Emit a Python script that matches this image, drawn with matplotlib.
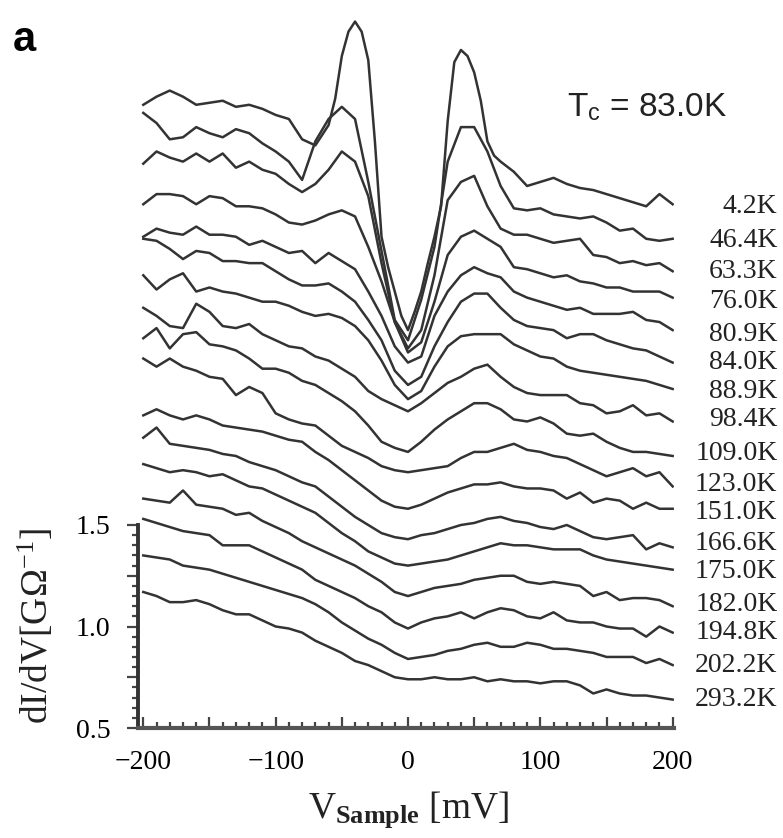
import matplotlib
matplotlib.use("Agg")
import matplotlib.pyplot as plt
import matplotlib.transforms as mtransforms
from matplotlib.ticker import FixedLocator, FuncFormatter, MultipleLocator
import numpy as np

plt.rcParams['font.family'] = ['Liberation Serif', 'DejaVu Serif']
plt.rcParams['mathtext.fontset'] = 'custom'
plt.rcParams['mathtext.rm'] = 'Liberation Serif'
plt.rcParams['mathtext.sf'] = 'Liberation Sans'
plt.rcParams['mathtext.bf'] = 'Liberation Serif:bold'
plt.rcParams['mathtext.it'] = 'Liberation Serif:italic'

# sample bias grid (mV), one value every 10 mV
bias_mv = np.arange(-200, 201, 10)
# the 4.2K curve is read more finely around the coherence peaks
bias_4_2 = np.concatenate([np.arange(-200, -79, 10), np.arange(-70, 71, 5), np.arange(80, 201, 10)])

temperatures = ["4.2K", "46.4K", "63.3K", "76.0K", "80.9K", "84.0K", "88.9K",
                "98.4K", "109.0K", "123.0K", "151.0K", "166.6K", "175.0K",
                "182.0K", "194.8K", "202.2K", "293.2K"]
# height of each temperature label (same units as the curves)
label_y = [3.07, 2.90, 2.75, 2.60, 2.44, 2.30, 2.16, 2.02, 1.85, 1.70, 1.56, 1.41, 1.27,
           1.11, 0.97, 0.81, 0.64]

# dI/dV curves, offset for clarity
g_4_2 = [3.57, 3.61, 3.64, 3.61, 3.57, 3.58, 3.59, 3.56, 3.57, 3.55, 3.52, 3.50, 3.40,
         3.37, 3.42, 3.47, 3.60, 3.81, 3.93, 3.98, 3.93, 3.79, 3.39, 2.92, 2.77, 2.65, 2.53,
         2.46, 2.55, 2.65, 2.79, 2.92, 3.07, 3.49, 3.78, 3.84, 3.81, 3.73, 3.59, 3.39, 3.32,
         3.29,
         3.24, 3.17, 3.19, 3.21, 3.18, 3.16, 3.15, 3.13, 3.11, 3.09, 3.07, 3.13, 3.08]
g_46_4 = [3.53, 3.48, 3.40, 3.41, 3.46, 3.43, 3.41, 3.45, 3.43, 3.38, 3.34, 3.29, 3.20, 3.39,
          3.50, 3.56, 3.50, 3.19, 2.85, 2.51, 2.41, 2.61, 2.87, 3.29, 3.46, 3.46, 3.34, 3.17,
          3.06, 3.05, 3.06, 3.03, 3.02, 3.01, 3.02, 2.99, 2.95, 2.96, 2.91, 2.90, 2.91]
g_63_3 = [3.28, 3.34, 3.31, 3.29, 3.33, 3.29, 3.33, 3.26, 3.29, 3.25, 3.23, 3.18, 3.14, 3.18,
          3.25, 3.34, 3.29, 3.12, 2.79, 2.50, 2.37, 2.46, 2.73, 3.10, 3.19, 3.22, 3.07, 2.96,
          2.93, 2.93, 2.91, 2.89, 2.90, 2.91, 2.83, 2.82, 2.79, 2.80, 2.78, 2.79, 2.75]
g_76_0 = [3.08, 3.13, 3.13, 3.12, 3.08, 3.12, 3.11, 3.07, 3.07, 3.06, 3.03, 2.99, 2.98, 3.00,
          3.03, 3.05, 3.02, 2.87, 2.70, 2.50, 2.35, 2.40, 2.60, 2.83, 2.92, 2.95, 2.91, 2.87,
          2.77, 2.76, 2.74, 2.72, 2.73, 2.70, 2.69, 2.67, 2.67, 2.65, 2.65, 2.65, 2.62]
g_80_9 = [2.92, 2.96, 2.94, 2.93, 2.97, 2.93, 2.93, 2.92, 2.88, 2.90, 2.87, 2.84, 2.85, 2.79,
          2.84, 2.80, 2.76, 2.65, 2.53, 2.38, 2.30, 2.33, 2.53, 2.65, 2.73, 2.77, 2.74, 2.72,
          2.65, 2.62, 2.60, 2.58, 2.56, 2.57, 2.54, 2.54, 2.54, 2.55, 2.51, 2.50, 2.46]
g_84_0 = [2.91, 2.90, 2.86, 2.81, 2.85, 2.84, 2.80, 2.80, 2.79, 2.79, 2.75, 2.71, 2.68, 2.68,
          2.69, 2.65, 2.60, 2.51, 2.41, 2.26, 2.19, 2.23, 2.38, 2.50, 2.60, 2.64, 2.64, 2.57,
          2.51, 2.48, 2.47, 2.46, 2.42, 2.44, 2.44, 2.41, 2.39, 2.37, 2.36, 2.33, 2.30]
g_88_9 = [2.73, 2.66, 2.71, 2.74, 2.65, 2.67, 2.65, 2.64, 2.62, 2.60, 2.60, 2.58, 2.55, 2.53,
          2.54, 2.52, 2.48, 2.41, 2.31, 2.19, 2.12, 2.16, 2.28, 2.38, 2.43, 2.44, 2.44, 2.44,
          2.39, 2.36, 2.33, 2.32, 2.28, 2.26, 2.25, 2.24, 2.23, 2.22, 2.21, 2.19, 2.17]
g_98_4 = [2.57, 2.53, 2.48, 2.47, 2.59, 2.55, 2.48, 2.47, 2.49, 2.44, 2.41, 2.38, 2.37, 2.33,
          2.31, 2.27, 2.23, 2.16, 2.12, 2.09, 2.06, 2.10, 2.15, 2.20, 2.23, 2.27, 2.29, 2.23,
          2.18, 2.15, 2.14, 2.14, 2.14, 2.10, 2.09, 2.05, 2.06, 2.09, 2.04, 2.05, 2.01]
g_109_0 = [2.42, 2.47, 2.37, 2.44, 2.45, 2.39, 2.38, 2.36, 2.32, 2.27, 2.27, 2.25, 2.21, 2.19,
           2.15, 2.11, 2.06, 1.99, 1.91, 1.88, 1.86, 1.91, 1.97, 2.02, 2.06, 2.10, 2.10, 2.07,
           2.02, 2.01, 2.03, 2.00, 1.95, 1.94, 1.95, 1.91, 1.88, 1.86, 1.86, 1.85, 1.84]
g_123_0 = [2.32, 2.28, 2.32, 2.28, 2.26, 2.23, 2.22, 2.14, 2.18, 2.15, 2.05, 2.02, 2.00, 1.99,
           1.94, 1.89, 1.86, 1.83, 1.79, 1.77, 1.76, 1.77, 1.78, 1.79, 1.83, 1.86, 1.86, 1.88,
           1.90, 1.87, 1.86, 1.84, 1.83, 1.80, 1.77, 1.74, 1.76, 1.78, 1.74, 1.76, 1.69]
g_151_0 = [2.04, 2.07, 2.04, 2.02, 2.04, 2.02, 1.99, 1.98, 1.97, 1.96, 1.94, 1.92, 1.91, 1.86,
           1.82, 1.77, 1.72, 1.67, 1.62, 1.59, 1.58, 1.60, 1.63, 1.66, 1.68, 1.70, 1.70, 1.71,
           1.69, 1.68, 1.68, 1.67, 1.63, 1.66, 1.61, 1.63, 1.62, 1.58, 1.61, 1.58, 1.58]
g_166_6 = [1.93, 1.98, 1.90, 1.89, 1.88, 1.87, 1.85, 1.84, 1.81, 1.79, 1.77, 1.74, 1.71, 1.69,
           1.64, 1.59, 1.54, 1.50, 1.46, 1.44, 1.43, 1.45, 1.46, 1.48, 1.50, 1.51, 1.53, 1.54,
           1.52, 1.51, 1.49, 1.48, 1.50, 1.47, 1.44, 1.43, 1.44, 1.45, 1.38, 1.41, 1.39]
g_175_0 = [1.80, 1.78, 1.76, 1.77, 1.76, 1.74, 1.75, 1.72, 1.69, 1.68, 1.65, 1.62, 1.59, 1.56,
           1.51, 1.46, 1.42, 1.37, 1.34, 1.31, 1.30, 1.31, 1.32, 1.33, 1.35, 1.37, 1.39, 1.41,
           1.40, 1.40, 1.39, 1.38, 1.38, 1.38, 1.35, 1.33, 1.32, 1.31, 1.30, 1.29, 1.28]
g_182_0 = [1.63, 1.62, 1.61, 1.67, 1.60, 1.59, 1.58, 1.55, 1.56, 1.52, 1.49, 1.46, 1.42, 1.39,
           1.36, 1.33, 1.30, 1.26, 1.22, 1.17, 1.15, 1.17, 1.19, 1.20, 1.21, 1.23, 1.24, 1.25,
           1.25, 1.22, 1.21, 1.22, 1.21, 1.20, 1.15, 1.17, 1.13, 1.14, 1.14, 1.13, 1.10]
g_194_8 = [1.53, 1.51, 1.49, 1.47, 1.46, 1.45, 1.40, 1.40, 1.40, 1.37, 1.34, 1.31, 1.28, 1.23,
           1.20, 1.17, 1.14, 1.10, 1.07, 1.02, 0.99, 1.02, 1.04, 1.05, 1.07, 1.04, 1.07, 1.09,
           1.08, 1.05, 1.04, 1.07, 1.03, 1.02, 1.02, 1.00, 0.99, 0.99, 0.95, 1.00, 0.97]
g_202_2 = [1.35, 1.34, 1.33, 1.30, 1.29, 1.28, 1.26, 1.24, 1.22, 1.20, 1.18, 1.16, 1.14, 1.11,
           1.07, 1.02, 0.98, 0.94, 0.91, 0.87, 0.84, 0.85, 0.86, 0.88, 0.89, 0.91, 0.92, 0.90,
           0.90, 0.92, 0.91, 0.89, 0.89, 0.88, 0.87, 0.85, 0.85, 0.85, 0.82, 0.84, 0.81]
g_293_2 = [1.17, 1.15, 1.12, 1.12, 1.13, 1.11, 1.08, 1.06, 1.06, 1.03, 1.00, 0.99, 0.97, 0.93,
           0.90, 0.87, 0.83, 0.81, 0.78, 0.75, 0.74, 0.74, 0.75, 0.74, 0.74, 0.75, 0.73, 0.74,
           0.73, 0.73, 0.72, 0.73, 0.73, 0.71, 0.67, 0.69, 0.67, 0.66, 0.66, 0.65, 0.64]

curves = [g_4_2, g_46_4, g_63_3, g_76_0, g_80_9, g_84_0, g_88_9, g_98_4, g_109_0,
          g_123_0, g_151_0, g_166_6, g_175_0, g_182_0, g_194_8, g_202_2, g_293_2]
biases = [bias_4_2] + [bias_mv] * (len(curves) - 1)

W, H = 783, 838
fig = plt.figure(figsize=(W / 100, H / 100), dpi=100)
ax = fig.add_axes([138 / W, (H - 728) / H, 536 / W, 722 / H])

for v, g in zip(biases, curves):
    ax.plot(v, g, color='#333333', lw=1.8, solid_joinstyle='round')

ax.set_xlim(-204, 201)
ax.set_ylim(0.5, 0.5 + 722 / 203)

for side in ['top', 'right']:
    ax.spines[side].set_visible(False)
ax.spines['left'].set_bounds(0.5, 1.5)
ax.spines['left'].set_linewidth(2.8)
ax.spines['bottom'].set_linewidth(3.0)
ax.spines['left'].set_color('#333333')
ax.spines['bottom'].set_color('#555555')


def xfmt(v, pos):
    if int(round(v)) % 100 != 0:
        return ''
    return f"{v:.0f}".replace('-', '\u2212')


def yfmt(v, pos):
    if abs(v * 2 - round(v * 2)) > 1e-6:
        return ''
    return f"{v:.1f}"


ax.xaxis.set_major_locator(FixedLocator(np.arange(-200, 201, 50)))
ax.xaxis.set_minor_locator(MultipleLocator(10))
ax.xaxis.set_major_formatter(FuncFormatter(xfmt))
ax.yaxis.set_major_locator(FixedLocator([0.5, 0.75, 1.0, 1.25, 1.5]))
ax.yaxis.set_minor_locator(FixedLocator(np.arange(0.5, 1.51, 0.05)))
ax.yaxis.set_major_formatter(FuncFormatter(yfmt))

ax.tick_params(axis='x', which='major', direction='in', length=8, width=1.6,
               labelsize=20, pad=16, color='#444444')
ax.tick_params(axis='x', which='minor', direction='in', length=4, width=1.6, color='#444444')
ax.tick_params(axis='y', which='major', direction='out', length=8, width=1.6,
               labelsize=20, pad=12, color='#444444')
ax.tick_params(axis='y', which='minor', direction='out', length=4, width=1.6, color='#444444')

# temperature labels at right, one per curve
label_tf = mtransforms.blended_transform_factory(ax.transAxes, ax.transData)
for name, y in zip(temperatures, label_y):
    ax.text(1.193, y, name, transform=label_tf, ha='right', va='center',
            fontsize=20, color='#222222')

ax.text(0.95, 3.56, r'T$_{\mathsf{c}}$ = 83.0K', transform=label_tf, ha='center',
        va='center', fontsize=24, family='Liberation Sans', color='#222222')

ax.text(-0.19, 0.141, r'dI/dV[G$\Omega^{-1}$]', transform=ax.transAxes, rotation=90,
        ha='center', va='center', fontsize=27, color='#222222')

fig.text(409 / W, 1 - 810 / H, r'V$_{\mathbf{Sample}}$ [mV]', ha='center', va='center',
         fontsize=27, color='#222222')

fig.text(0.016, 0.976, 'a', ha='left', va='top', fontsize=30, fontweight='bold',
         family='Liberation Sans')

fig.savefig('out.png', dpi=100)
